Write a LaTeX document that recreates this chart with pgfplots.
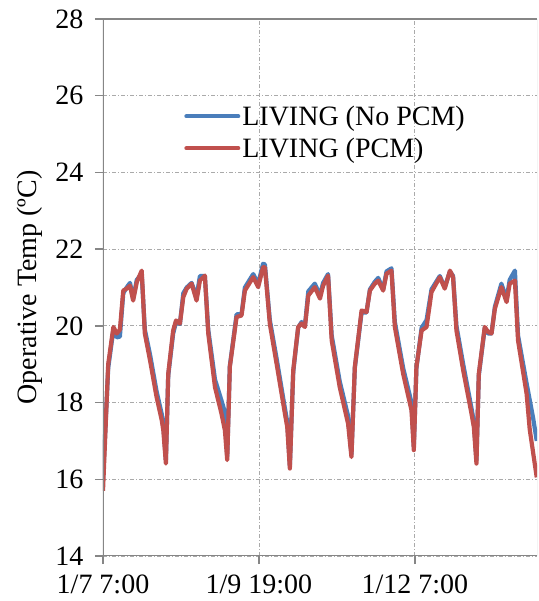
\documentclass[border=0pt]{standalone}
\usepackage{fontspec}
\setmainfont{Liberation Serif}
\usepackage{pgfplots}
\pgfplotsset{compat=1.18}
\usepackage{pgfplotstable}
\definecolor{xlblue}{RGB}{74,126,187}
\definecolor{xlred}{RGB}{192,80,77}
\definecolor{axgray}{RGB}{134,134,134}
\definecolor{gridgray}{RGB}{170,170,170}
\pgfplotstableread{
h y
0 15.7
2.0 19.0
4.0 19.97
5.3 19.8
6.5 19.9
7.8 20.92
9.1 20.97
10.4 21.05
11.6 20.66
13.0 21.14
14.9 21.44
16.1 19.8
18.1 19.1
20.6 18.15
22.6 17.54
23.2 17.28
24.2 16.41
25.1 18.75
27.0 19.88
28.1 20.14
29.6 20.06
30.9 20.75
32.2 20.97
34.1 21.1
36.0 20.66
37.3 21.18
39.2 21.31
40.5 19.8
43.1 18.4
45.6 17.71
46.9 17.28
47.8 16.5
48.8 18.93
51.4 20.23
53.3 20.27
54.6 20.92
57.8 21.27
59.7 21.01
61.6 21.53
62.3 21.53
64.2 20.05
66.8 19.01
70.0 17.71
70.9 17.36
71.9 16.28
73.2 18.84
75.1 19.97
76.4 20.06
77.7 19.97
79.0 20.79
81.5 21.01
83.5 20.71
84.7 21.05
86.6 21.31
88.0 19.62
91.1 18.4
94.3 17.45
95.6 16.58
96.9 18.93
99.5 20.4
101.4 20.36
102.7 20.92
104.6 21.1
105.9 21.18
107.8 20.92
109.1 21.36
111.0 21.44
112.3 19.97
115.5 18.75
118.7 17.8
119.6 16.76
120.6 18.93
122.6 19.88
124.5 19.97
126.4 20.88
129.6 21.27
131.5 20.97
133.5 21.44
134.7 21.27
136.0 19.88
138.6 18.84
141.8 17.71
142.7 17.36
143.7 16.41
144.6 18.75
146.9 19.97
148.2 19.84
149.5 19.8
150.8 20.45
153.3 21.01
155.3 20.62
156.5 21.1
158.5 21.18
159.7 19.62
163.0 18.23
164.2 17.3
166.9 16.05
}\pcmdata
\pgfplotstableread{
h y
0 16.0
2.0 18.9
4.0 19.9
5.3 19.7
6.5 19.72
7.8 20.85
9.1 21.0
10.4 21.12
11.6 20.7
13.0 21.2
14.9 21.35
16.1 19.9
18.1 19.25
20.6 18.3
22.6 17.7
23.2 17.45
24.2 16.5
25.1 18.7
27.0 19.8
28.1 20.1
29.6 20.05
30.9 20.85
32.2 21.0
34.1 21.12
36.0 20.75
37.3 21.3
39.2 21.3
40.5 19.9
43.1 18.6
45.6 18.05
46.9 17.75
47.8 16.6
48.8 18.95
51.4 20.3
53.3 20.3
54.6 21.0
57.8 21.35
59.7 21.1
61.6 21.62
62.3 21.6
64.2 20.15
66.8 19.15
70.0 17.85
70.9 17.5
71.9 16.35
73.2 18.8
75.1 19.95
76.4 20.1
77.7 20.0
79.0 20.9
81.5 21.1
83.5 20.8
84.7 21.12
86.6 21.35
88.0 19.75
91.1 18.55
94.3 17.65
95.6 16.65
96.9 18.9
99.5 20.35
101.4 20.35
102.7 20.95
104.6 21.15
105.9 21.25
107.8 20.95
109.1 21.42
111.0 21.5
112.3 20.1
115.5 18.9
118.7 18.0
119.6 16.85
120.6 18.9
122.6 19.95
124.5 20.15
126.4 20.95
129.6 21.3
131.5 21.0
133.5 21.42
134.7 21.3
136.0 20.0
138.6 19.0
141.8 17.85
142.7 17.5
143.7 16.5
144.6 18.7
146.9 19.95
148.2 19.8
149.5 19.8
150.8 20.5
153.3 21.1
155.3 20.7
156.5 21.2
158.5 21.44
159.7 19.75
163.0 18.5
165.5 17.6
166.9 17.0
}\nopcmdata
\begin{document}
\begin{tikzpicture}
\begin{axis}[
  scale only axis,
  width=434pt, height=537pt,
  xmin=0, xmax=167,
  ymin=14, ymax=28,
  ytick={14,16,...,28},
  xtick={0,60,120},
  xticklabels={1/7 7:00, 1/9 19:00, 1/12 7:00},
  tick align=outside,
  major tick length=8pt,
  tick style={axgray, line width=1.5pt},
  xtick pos=bottom, ytick pos=left,
  axis line style={draw=none},
  grid=major,
  major grid style={gridgray, line width=0.8pt, dash pattern=on 4pt off 2pt on 1pt off 2pt},
  every tick label/.append style={font=\fontsize{28}{32}\selectfont},
  yticklabel style={xshift=-8pt},
  xticklabel style={yshift=-10pt, inner sep=1pt},
  /pgf/number format/assume math mode=true,
  ylabel={Operative Temp (ºC)},
  every axis y label/.style={at={(axis description cs:-0.168,0.5)}, anchor=center, rotate=90, font=\fontsize{28}{32}\selectfont},
  legend style={draw=none, fill=none, at={(0.18,0.846)}, anchor=north west,
    font=\fontsize{28}{32}\selectfont, row sep=7pt},
  legend cell align=left,
  legend image code/.code={\draw[#1, line width=4pt, line cap=round] (0pt,0pt) -- (52pt,0pt);},
  clip=true,
]
\addplot[xlblue, line width=4.2pt, line join=round] table[x=h, y=y] {\nopcmdata};
\addlegendentry{LIVING (No PCM)}
\addplot[xlred, line width=4.2pt, line join=round] table[x=h, y=y] {\pcmdata};
\addlegendentry{LIVING (PCM)}
\draw[axgray!70, line width=0.8pt] (rel axis cs:1,0) -- (rel axis cs:1,1);
\draw[axgray, line width=1.8pt] (rel axis cs:0,1) -- (rel axis cs:1,1);
\draw[axgray, line width=1.8pt] (rel axis cs:0,0) -- (rel axis cs:0,1);
\draw[axgray, line width=1.8pt] (rel axis cs:0,0) -- (rel axis cs:1,0);
\end{axis}
\pgfresetboundingbox
\path[use as bounding box] (-103pt,-45pt) rectangle (435pt,556pt);
\end{tikzpicture}
\end{document}
